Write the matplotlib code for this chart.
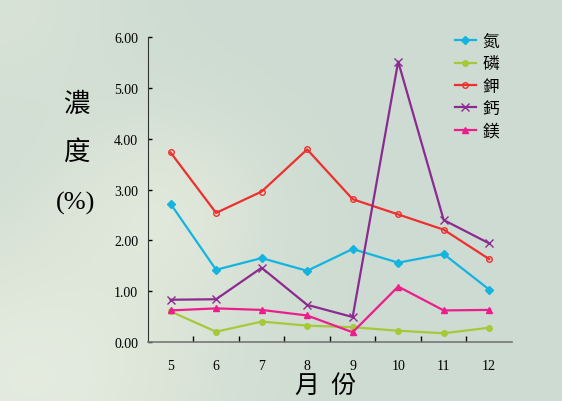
import numpy as np
import matplotlib
matplotlib.use("Agg")
import matplotlib.pyplot as plt

months = ["5", "6", "7", "8", "9", "10", "11", "12"]
names = ["氮", "磷", "鉀", "鈣", "鎂"]
nitrogen = [2.72, 1.42, 1.65, 1.40, 1.83, 1.56, 1.73, 1.03]
phosphorus = [0.60, 0.20, 0.40, 0.32, 0.29, 0.22, 0.17, 0.28]
potassium = [3.73, 2.54, 2.96, 3.79, 2.81, 2.51, 2.21, 1.63]
calcium = [0.83, 0.84, 1.46, 0.73, 0.49, 5.52, 2.40, 1.94]
magnesium = [0.62, 0.66, 0.63, 0.52, 0.19, 1.09, 0.62, 0.63]

series = [nitrogen, phosphorus, potassium, calcium, magnesium]
colors = ["#14b4e0", "#a6c93a", "#ee2f2f", "#8b2b8f", "#ec1e8c"]
markers = ["D", "o", "o", "x", "^"]

serif = ["Liberation Serif", "DejaVu Serif"]
cjk = ["Noto Sans CJK TC", "DejaVu Sans"]

fig = plt.figure(figsize=(5.62, 4.02), dpi=100)
fig.patch.set_facecolor("#d2ded4")

# soft background: mint base, lighter toward the lower left
grad = fig.add_axes([0, 0, 1, 1], zorder=-1)
yy, xx = np.mgrid[0:1:100j, 0:1:140j]
shade = (0.55 * np.exp(-((xx - 0.05) ** 2 / 0.12 + (yy - 0.05) ** 2 / 0.15))
         + 0.35 * np.exp(-((xx - 0.3) ** 2 / 0.04 + (yy - 0.5) ** 2 / 0.06))
         + 0.25 * np.exp(-((xx - 0.0) ** 2 / 0.05 + (yy - 1.0) ** 2 / 0.1)))
cmap = matplotlib.colors.LinearSegmentedColormap.from_list(
    "bg", ["#cddbd2", "#dce5d8", "#eaeee4"])
grad.imshow(shade, cmap=cmap, aspect="auto", extent=[0, 1, 0, 1],
            origin="lower", vmin=0, vmax=0.7)
grad.axis("off")

ax = fig.add_axes([0.263, 0.147, 0.648, 0.758])
ax.patch.set_alpha(0)

x = np.arange(len(months))
for i, vals in enumerate(series):
    fc = "none" if i == 2 else colors[i]
    ms = 4 if i != 3 else 6
    ax.plot(x, vals, color=colors[i], marker=markers[i], markersize=ms,
            markerfacecolor=fc, markeredgecolor=colors[i], linewidth=1.6,
            label=names[i])

ax.set_xlim(-0.5, len(months) - 0.5)
ax.set_ylim(0, 6)
ax.set_yticks(np.arange(0, 6.01, 1))
ax.set_yticklabels([f"{v:.2f}" for v in np.arange(0, 6.01, 1)], family=serif, fontsize=10)
ax.set_xticks(x)
ax.set_xticklabels(months, family=serif, fontsize=10)
ax.set_xticks(np.arange(0.5, len(months) - 1, 1), minor=True)
ax.tick_params(axis="x", which="major", length=0, pad=12)
ax.tick_params(axis="x", which="minor", direction="in", length=4, width=1)
ax.tick_params(axis="y", direction="in", length=3, width=1, pad=7)
for s in ["top", "right"]:
    ax.spines[s].set_visible(False)
ax.spines["left"].set_color("#333333")
ax.spines["bottom"].set_color("#777777")
ax.spines["bottom"].set_linewidth(1.2)

fig.legend(*ax.get_legend_handles_labels(), loc="upper left",
           bbox_to_anchor=(455 / 562, 1 - 34 / 402), frameon=False,
           prop={"family": cjk, "size": 12}, handlelength=1.25,
           labelspacing=0.32, handletextpad=0.4, borderpad=0, borderaxespad=0)

fig.text(0.135, 0.74, "濃", family=cjk, fontsize=19, ha="center", va="center")
fig.text(0.135, 0.62, "度", family=cjk, fontsize=19, ha="center", va="center")
fig.text(0.135, 0.495, "(%)", family=serif, fontsize=19, ha="center", va="center")
fig.text(0.58, 0.04, "月  份", family=cjk, fontsize=18, ha="center", va="center")

fig.savefig("out.png", dpi=100, facecolor=fig.get_facecolor())
